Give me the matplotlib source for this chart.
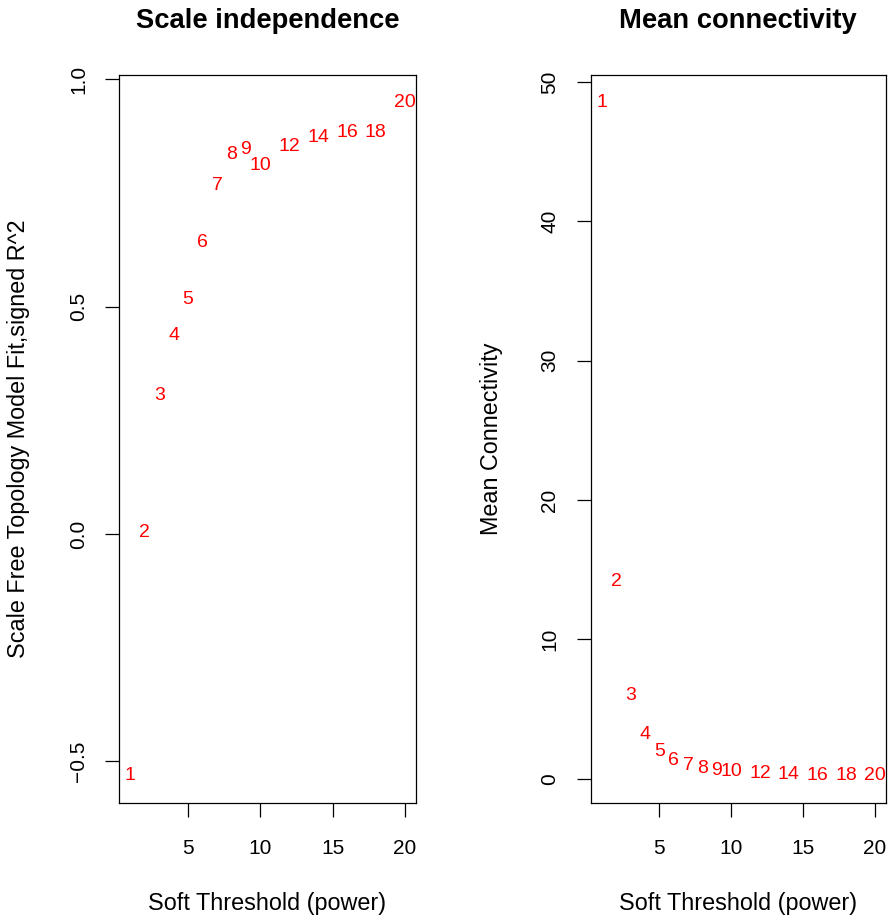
import matplotlib
matplotlib.use("Agg")
import matplotlib.pyplot as plt

plt.rcParams['font.family'] = ['Liberation Sans', 'DejaVu Sans']
plt.rcParams['axes.unicode_minus'] = False

powers = [1, 2, 3, 4, 5, 6, 7, 8, 9, 10, 12, 14, 16, 18, 20]
signed_r2 = [-0.532, 0.004, 0.304, 0.437, 0.516, 0.642, 0.766, 0.835, 0.846,
             0.810, 0.853, 0.873, 0.884, 0.884, 0.950]
mean_k = [48.55, 14.14, 6.0, 3.2, 1.98, 1.28, 0.97, 0.71, 0.59, 0.54,
          0.38, 0.30, 0.27, 0.24, 0.22]

xticks = [5, 10, 15, 20]
left_yticks = [-0.5, 0.0, 0.5, 1.0]
right_yticks = [0, 10, 20, 30, 40, 50]

fig = plt.figure(figsize=(8.91, 9.18), dpi=100)
ax1 = fig.add_axes([0.1339, 0.1256, 0.3327, 0.7924])
ax2 = fig.add_axes([0.6630, 0.1256, 0.3314, 0.7924])


def r_range(vals):
    lo, hi = min(vals), max(vals)
    r = hi - lo
    return lo - 0.04 * r, hi + 0.04 * r


def fmt_dec(t):
    s = f'{abs(t):.1f}'
    return ('\u2212' + s) if t < 0 else s


def style(ax, title, ylabel, yticks, fmt, ylabel_x):
    ax.set_xlim(*r_range(powers))
    ax.set_xticks(xticks)
    ax.set_xticklabels([str(t) for t in xticks])
    ax.set_yticks(yticks)
    ax.set_yticklabels([fmt(t) for t in yticks], rotation=90, va='center')
    ax.tick_params(axis='both', length=10, width=0.9, labelsize=15,
                   direction='out', color='black')
    ax.tick_params(axis='x', pad=16)
    ax.tick_params(axis='y', pad=12.5)
    for s in ax.spines.values():
        s.set_linewidth(0.9)
        s.set_color('black')
    ax.set_title(title, fontsize=19.7, fontweight='bold', pad=34)
    ax.set_xlabel('Soft Threshold (power)', fontsize=16.8)
    ax.xaxis.set_label_coords(0.5, -0.1228)
    ax.set_ylabel(ylabel, fontsize=16.8)
    ax.yaxis.set_label_coords(ylabel_x, 0.5)


ax1.set_ylim(*r_range(signed_r2))
for p, v in zip(powers, signed_r2):
    ax1.text(p, v, str(p), color='red', fontsize=14, ha='center', va='center')
style(ax1, 'Scale independence', 'Scale Free Topology Model Fit,signed R^2',
      left_yticks, fmt_dec, -0.301)

ax2.set_ylim(*r_range(mean_k))
for p, v in zip(powers, mean_k):
    ax2.text(p, v, str(p), color='red', fontsize=14, ha='center', va='center')
style(ax2, 'Mean connectivity', 'Mean Connectivity',
      right_yticks, lambda t: f'{t:d}', -0.297)

fig.savefig('out.png', dpi=100)
